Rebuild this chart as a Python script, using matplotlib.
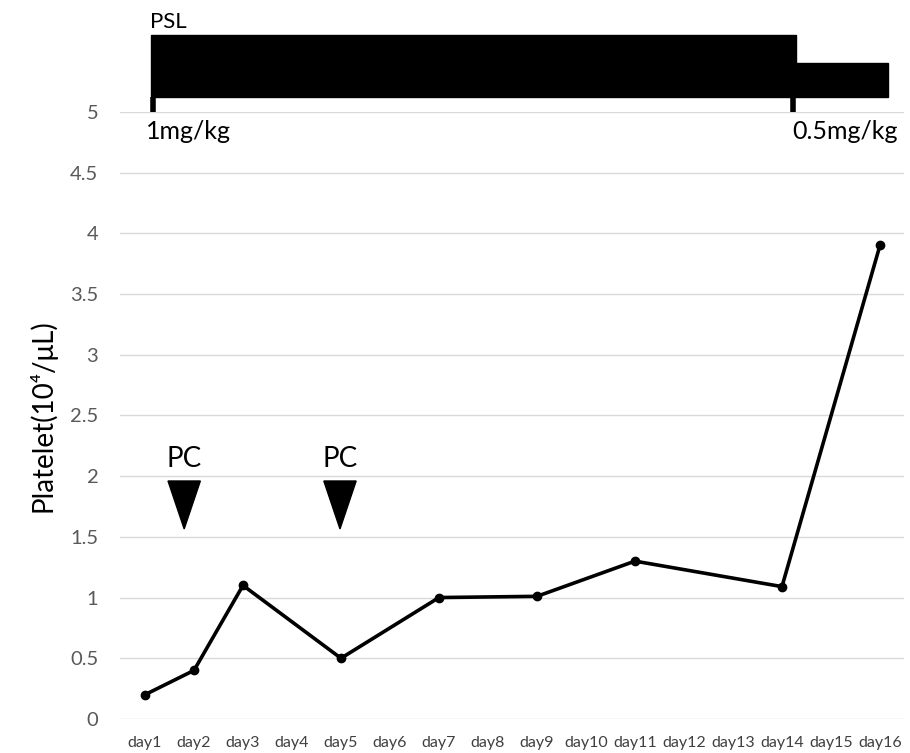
import numpy as np
import matplotlib
matplotlib.use('Agg')
import matplotlib.pyplot as plt
from matplotlib.patches import Polygon, Rectangle

plt.rcParams['font.family'] = ['Lato', 'DejaVu Sans']

# chart data
aDay = ['day%d' % i for i in range(1, 17)]
aPlatelet = [0.2, 0.4, 1.1, np.nan, 0.5, np.nan, 1.0, np.nan, 1.01, np.nan,
             1.3, np.nan, np.nan, 1.09, np.nan, 3.9]
aPC_day = [0.8, 3.98]          # category position of the PC arrows
aPSL_start = [0.12, 13.29]     # dose bars: start, end, height top
aPSL_end = [13.29, 15.16]
aPSL_top = [5.63, 5.40]
aPSL_label = ['1mg/kg', '0.5mg/kg']
aPSL_tick = [0.16, 13.22]

fig = plt.figure(figsize=(9.1, 7.53), dpi=100)
ax = fig.add_axes([0.1324, 0.0452, 0.8615, 0.8062])

x = np.arange(len(aDay))
y = np.array(aPlatelet)
mask = ~np.isnan(y)
ax.plot(x[mask], y[mask], color='black', lw=2.6, marker='o', ms=6, zorder=3)

ax.set_xlim(-0.5, len(aDay) - 0.5)
ax.set_ylim(0, 5)
ax.set_yticks(np.arange(0, 5.01, 0.5))
ax.set_yticklabels(['0', '0.5', '1', '1.5', '2', '2.5', '3', '3.5', '4', '4.5', '5'])
ax.set_xticks(x)
ax.set_xticklabels(aDay)
ax.tick_params(axis='y', length=0, pad=16, labelsize=14.5, labelcolor='#595959')
ax.tick_params(axis='x', length=0, pad=12, labelsize=11.5, labelcolor='#404040')
ax.grid(axis='y', color='#d9d9d9', lw=1)
ax.set_axisbelow(True)
for s in ['top', 'right', 'left', 'bottom']:
    ax.spines[s].set_visible(False)
ax.set_ylabel('Platelet(10⁴/μL)', fontsize=20, labelpad=10)

# PC arrows
for xc in aPC_day:
    tri = Polygon([[xc - 0.33, 1.96], [xc + 0.33, 1.96], [xc, 1.565]],
                  closed=True, color='black', zorder=4)
    ax.add_patch(tri)
    ax.text(xc, 2.03, 'PC', ha='center', va='bottom', fontsize=20)

# PSL dose bars above the plot
for x0, x1, top in zip(aPSL_start, aPSL_end, aPSL_top):
    ax.add_patch(Rectangle((x0, 5.12), x1 - x0, top - 5.12, color='black',
                           clip_on=False, zorder=4))
for xt in aPSL_tick:
    ax.plot([xt, xt], [5.0, 5.12], color='black', lw=4, clip_on=False,
            solid_capstyle='butt')
ax.text(aPSL_start[0] - 0.02, 5.66, 'PSL', ha='left', va='bottom', fontsize=16)
ax.text(aPSL_tick[0] - 0.15, 4.84, aPSL_label[0], ha='left', va='center', fontsize=18)
ax.text(aPSL_end[1] + 0.2, 4.84, aPSL_label[1], ha='right', va='center', fontsize=18)

fig.savefig('out.png', dpi=100)
